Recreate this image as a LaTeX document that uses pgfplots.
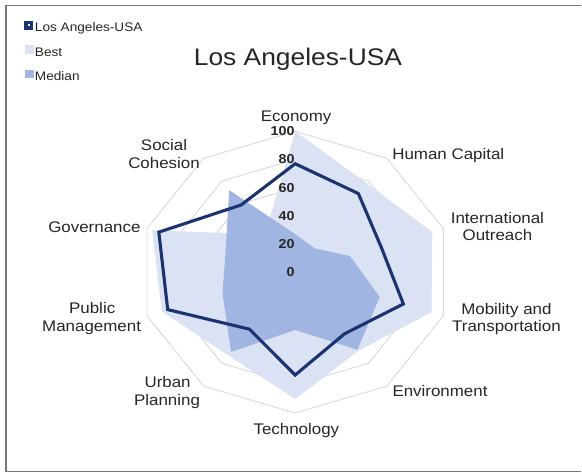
\documentclass[border=0pt]{standalone}
\usepackage{fontspec}
\setmainfont{Liberation Sans}
\usepackage{graphicx}
\usepackage{pgfplots}
\pgfplotsset{compat=1.18}
\usepackage{pgfplotstable}
\definecolor{navy}{HTML}{1B3370}
\definecolor{bestc}{HTML}{DAE2F3}
\definecolor{medc}{HTML}{A0B5E2}
\definecolor{gridc}{HTML}{D9D9D9}
\definecolor{txt}{HTML}{262626}
\definecolor{framec}{HTML}{767676}
\newcommand\sx[1]{\scalebox{1.1}[1]{#1}}
\newcommand\lab{\fontsize{15.4}{18}\selectfont}
\pgfplotstableread{
i LA Best Median
0 77 100 27
1 69 78 21
2 58 92.5 37
3 73 92 57
4 54 69 68
5 73 90 41
6 50 73 70
7 86 90 49
8 92 96.5 47
9 59 33 72
}\data
\begin{document}
\begin{tikzpicture}
\begin{axis}[scale only axis, width=582pt, height=473pt,
  xmin=-189.42, xmax=183.65, ymin=-142.2, ymax=193.26,
  hide axis, clip=false,
  legend cell align=left,
  legend style={at={(axis cs:-173.85,178.58)}, anchor=north west, draw=none, fill=none,
    inner sep=0pt, outer sep=0pt, row sep=9.6pt, column sep=1.7pt,
    font=\fontsize{12.4}{14}\selectfont\color{txt},
    nodes={inner sep=0pt, text height=10pt, text depth=4pt}},
]
\fill[white] (rel axis cs:0,0) rectangle (rel axis cs:1,1);
\draw[framec, line width=1.3pt] (rel axis cs:1,0.988) -- (rel axis cs:0.0103,0.988) -- (rel axis cs:0.0103,0.00275) -- (rel axis cs:1,0.00275);
\pgfplotsinvokeforeach{20,40,60,80,100}{
\draw[gridc, line width=0.9pt] (axis cs:0,#1)
 -- (axis cs:{#1*sin(36)},{#1*cos(36)})
 -- (axis cs:{#1*sin(72)},{#1*cos(72)})
 -- (axis cs:{#1*sin(108)},{#1*cos(108)})
 -- (axis cs:{#1*sin(144)},{#1*cos(144)})
 -- (axis cs:{#1*sin(180)},{#1*cos(180)})
 -- (axis cs:{#1*sin(216)},{#1*cos(216)})
 -- (axis cs:{#1*sin(252)},{#1*cos(252)})
 -- (axis cs:{#1*sin(288)},{#1*cos(288)})
 -- (axis cs:{#1*sin(324)},{#1*cos(324)}) -- cycle;
}
\addplot[fill=bestc, draw=none, forget plot] table[x expr={\thisrow{Best}*cos(90-36*\thisrow{i})}, y expr={\thisrow{Best}*sin(90-36*\thisrow{i})}] {\data} -- cycle;
\addplot[fill=medc, draw=none, forget plot] table[x expr={\thisrow{Median}*cos(90-36*\thisrow{i})}, y expr={\thisrow{Median}*sin(90-36*\thisrow{i})}] {\data} -- cycle;
\addplot[navy, line width=3.1pt, line join=miter, forget plot] table[x expr={\thisrow{LA}*cos(90-36*\thisrow{i})}, y expr={\thisrow{LA}*sin(90-36*\thisrow{i})}] {\data} -- cycle;
\addlegendimage{legend image code/.code={\draw[navy, line width=3.4pt, fill=white] (1.7pt,0.7pt) rectangle (7.3pt,6.3pt);}}
\addlegendentry{\sx{Los Angeles-USA}}
\addlegendimage{legend image code/.code={\fill[bestc] (0.7pt,0pt) rectangle (8.7pt,7.6pt);}}
\addlegendentry{\sx{Best}}
\addlegendimage{legend image code/.code={\fill[medc] (0.7pt,0pt) rectangle (8.7pt,7.6pt);}}
\addlegendentry{\sx{Median}}
% tick labels
\foreach \v in {0,20,40,60,80,100}{
  \edef\tmp{\noexpand\node[anchor=east, inner sep=0pt, font=\noexpand\fontsize{13}{15}\noexpand\selectfont\noexpand\bfseries, text=txt] at (axis cs:-0.3,\v) {\noexpand\sx{\v}};}\tmp
}
% title
\node[anchor=base, inner sep=0pt, text=txt, font=\fontsize{24}{28}\selectfont] at (axis cs:1.79,146.45) {\sx{Los Angeles-USA}};
% category labels
\begin{scope}[every node/.style={anchor=base, inner sep=0pt, text=txt, font=\lab}]
\node at (axis cs:0.64,106.95) {\sx{Economy}};
\node at (axis cs:98.27,80.28) {\sx{Human Capital}};
\node at (axis cs:129.8,34.89) {\sx{International}};
\node at (axis cs:129.8,22.34) {\sx{Outreach}};
\node at (axis cs:135.58,-29.86) {\sx{Mobility and}};
\node at (axis cs:135.58,-42.41) {\sx{Transportation}};
\node at (axis cs:92.95,-88.51) {\sx{Environment}};
\node at (axis cs:0.77,-115.25) {\sx{Technology}};
\node at (axis cs:-81.86,-82.13) {\sx{Urban}};
\node at (axis cs:-82.24,-94.47) {\sx{Planning}};
\node at (axis cs:-130.26,-29.43) {\sx{Public}};
\node at (axis cs:-130.64,-41.99) {\sx{Management}};
\node at (axis cs:-128.85,28.51) {\sx{Governance}};
\node at (axis cs:-84.17,86.38) {\sx{Social}};
\node at (axis cs:-84.17,73.9) {\sx{Cohesion}};
\end{scope}
\end{axis}
\end{tikzpicture}
\end{document}
